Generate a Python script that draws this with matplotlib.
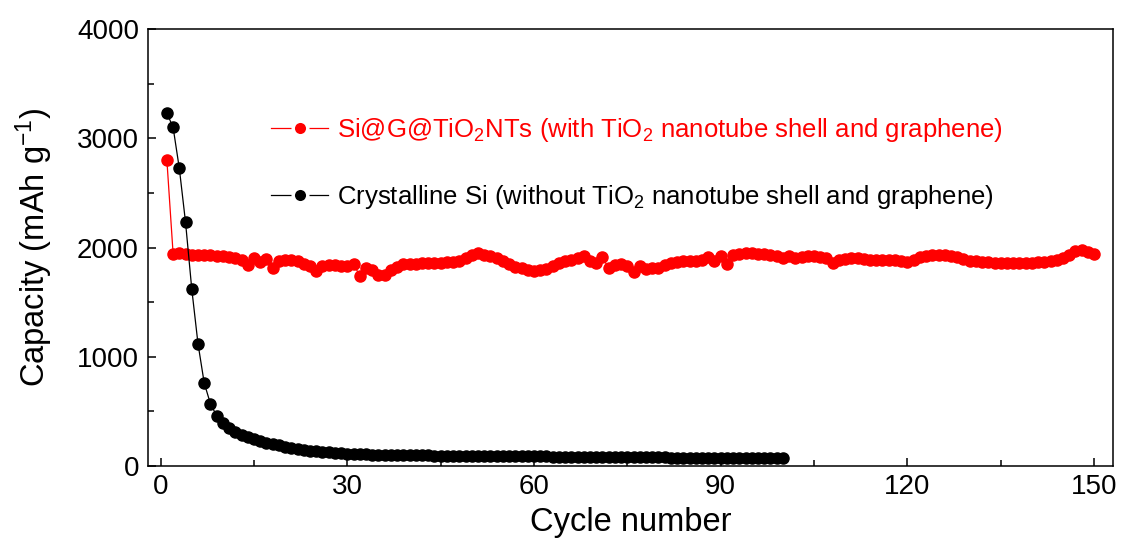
import numpy as np
import matplotlib.pyplot as plt
from matplotlib.lines import Line2D
from matplotlib.ticker import MultipleLocator

plt.rcParams['font.family'] = ['Liberation Sans', 'DejaVu Sans']
plt.rcParams['mathtext.default'] = 'regular'

## DATA
# Si@G@TiO2NTs, cycles 1-150
cycle_sig = np.arange(1, 151)
cap_sig = [2800,
           1945, 1950, 1940, 1935, 1935, 1930, 1928, 1925, 1920, 1915,
           1905, 1890, 1840, 1900, 1870, 1895, 1815, 1880, 1890, 1890,
           1880, 1850, 1835, 1785, 1830, 1840, 1840, 1835, 1830, 1850,
           1740, 1810, 1790, 1745, 1745, 1790, 1820, 1850, 1845, 1850,
           1855, 1855, 1860, 1860, 1865, 1865, 1875, 1900, 1935, 1950,
           1935, 1920, 1905, 1880, 1850, 1825, 1810, 1795, 1785, 1790,
           1800, 1830, 1860, 1880, 1890, 1905, 1920, 1875, 1860, 1910,
           1810, 1840, 1850, 1830, 1780, 1830, 1800, 1810, 1815, 1840,
           1860, 1870, 1875, 1880, 1880, 1885, 1910, 1880, 1920, 1850,
           1930, 1945, 1950, 1950, 1945, 1940, 1930, 1920, 1905, 1925,
           1900, 1915, 1920, 1920, 1915, 1900, 1860, 1890, 1895, 1900,
           1900, 1895, 1890, 1890, 1890, 1885, 1885, 1880, 1870, 1890,
           1910, 1925, 1935, 1935, 1930, 1920, 1910, 1895, 1880, 1875,
           1870, 1865, 1860, 1860, 1858, 1856, 1856, 1858, 1860, 1865,
           1870, 1880, 1885, 1900, 1935, 1965, 1980, 1960, 1945]

# crystalline Si, cycles 1-100
cycle_si = np.arange(1, 101)
cap_si = [3230, 3100, 2725, 2230, 1620, 1120, 760, 570, 460, 392,
          348, 315, 288, 265, 246, 230, 215, 200, 188, 178,
          168, 158, 150, 142, 136, 130, 125, 120, 116, 112,
          110, 108, 106, 104, 103, 102, 101, 100, 99, 98,
          98, 97, 97, 96, 96, 95, 95, 94, 95, 94,
          93, 93, 92, 92, 91, 91, 90, 90, 89, 89,
          88, 88, 87, 87, 86, 86, 85, 85, 84, 84,
          83, 83, 82, 85, 81, 80, 80, 79, 79, 78,
          78, 77, 77, 76, 76, 75, 75, 74, 74, 73,
          73, 72, 72, 71, 71, 70, 70, 70, 69, 69]

label_sig = 'Si@G@TiO$_2$NTs (with TiO$_2$ nanotube shell and graphene)'
label_si = 'Crystalline Si (without TiO$_2$ nanotube shell and graphene)'

## PLOT
fig = plt.figure(figsize=(11.26, 5.38), dpi=100)
ax = fig.add_axes([0.1314, 0.1338, 0.8571, 0.8123])

ax.plot(cycle_sig, cap_sig, '-o', color='#ff0000', lw=0.9, ms=8)
ax.plot(cycle_si, cap_si, '-o', color='black', lw=0.9, ms=8)

ax.set_xlim(-2.04, 153.05)
ax.set_ylim(0, 4000)
ax.xaxis.set_major_locator(MultipleLocator(30))
ax.xaxis.set_minor_locator(MultipleLocator(15))
ax.yaxis.set_major_locator(MultipleLocator(1000))
ax.yaxis.set_minor_locator(MultipleLocator(500))
ax.tick_params(which='both', direction='in', labelsize=20, width=1.1)
ax.tick_params(which='major', length=6)
ax.tick_params(which='minor', length=4)
ax.tick_params(axis='x', pad=6)
ax.tick_params(axis='y', pad=6.5)
for s in ax.spines.values():
    s.set_linewidth(1.1)

ax.set_xlabel('Cycle number', fontsize=23.5, labelpad=5)
ax.set_ylabel('Capacity (mAh g$^{-1}$)', fontsize=23.5, labelpad=16)

# legend handles: line broken around the marker (white marker edge)
h_sig = Line2D([], [], color='#ff0000', lw=0.9, marker='o', ms=10.5,
               mec='white', mew=2.5, mfc='#ff0000')
h_si = Line2D([], [], color='black', lw=0.9, marker='o', ms=10.5,
              mec='white', mew=2.5, mfc='black')
ax.legend([h_sig, h_si], [label_sig, label_si],
          loc='upper left', bbox_to_anchor=(0.128, 0.80), frameon=False,
          fontsize=18.5, numpoints=1, handlelength=2.2, handletextpad=0.35,
          labelspacing=1.5, borderpad=0, borderaxespad=0,
          labelcolor=['#ff0000', 'black'])

fig.savefig('out.png', dpi=100)
